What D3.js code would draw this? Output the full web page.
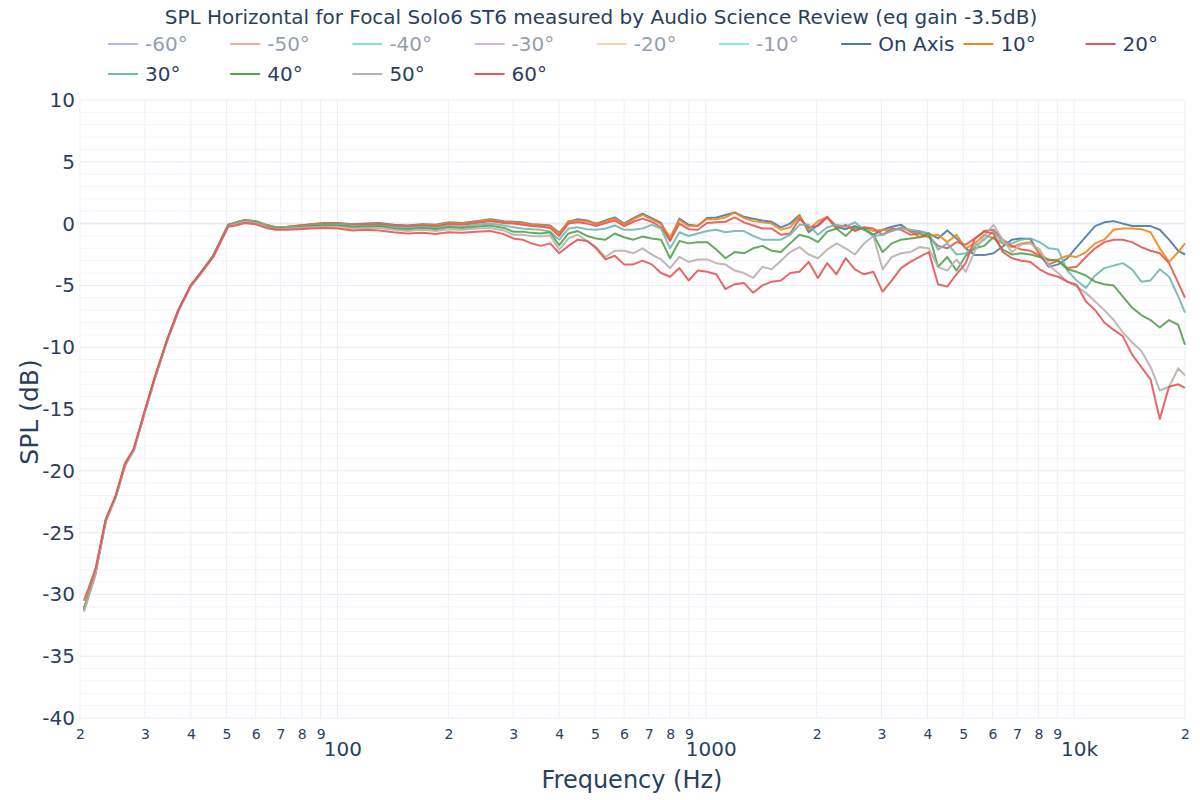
<!DOCTYPE html>
<html><head><meta charset="utf-8">
<script src="https://cdn.jsdelivr.net/npm/d3@7"></script>
<style>
body{margin:0;background:#fff;}
svg{display:block;font-family:"DejaVu Sans",Verdana,sans-serif;}
</style>
</head><body>
<svg id="chart" width="1200" height="800"></svg>
<script>
// ---------- DATA ----------
const chartTitle = "SPL Horizontal for Focal Solo6 ST6 measured by Audio Science Review (eq gain -3.5dB)";
const xTitle = "Frequency (Hz)";
const yTitle = "SPL (dB)";

const freqs = [20.5, 22, 23.5, 25, 26.5, 28, 30, 32, 34.5, 37, 40, 42.5, 46, 50.5, 53, 56, 60, 64, 68, 73, 79, 85, 92, 100, 110, 120, 130, 142, 155, 170, 185, 200, 218, 238, 260, 283,
 300, 318, 336, 356, 378, 400, 424, 449, 476, 504, 534, 566, 600, 636, 673, 713, 756, 800, 848, 898, 951, 1008, 1068, 1131, 1198, 1270, 1345, 1425, 1510, 1600, 1695, 1796, 1903, 2016, 2136, 2263, 2397, 2540, 2691, 2851, 3020, 3200, 3390, 3592, 3805, 4032, 4271, 4525, 4794, 5079, 5381, 5701, 6040, 6400, 6780, 7183, 7610, 8063, 8542, 9050, 9588, 10159, 10763, 11403, 12081, 12799, 13560, 14366, 15220, 16125, 17084, 18100, 19176, 20000];

const splOnAxis = [-31.2, -28.3, -24.0, -22.1, -19.5, -18.3, -15.2, -12.4, -9.4, -7.0, -5.0, -4.0, -2.6, -0.1, 0.1, 0.3, 0.2, -0.1, -0.3, -0.25, -0.15, -0.05, 0.05, 0.05, -0.05, 0.0, 0.05, -0.1, -0.15, -0.05, -0.1, 0.1, 0.05, 0.2, 0.35, 0.2,
 0.15, 0.1, -0.05, -0.1, -0.15, -0.75, 0.15, 0.35, 0.25, 0.0,
 0.25, 0.5, 0.0, 0.45, 0.8, 0.45, 0.05, -1.3, 0.4, -0.1,
 -0.2, 0.45, 0.5, 0.7, 0.9, 0.55, 0.4, 0.25, 0.15, -0.3,
 0.0, 0.7, -0.7, -0.1, 0.55, -0.25, -0.45, -0.2, -0.5, -0.9,
 -0.5, -0.25, -0.1, -0.65, -0.65, -0.8, -1.2, -0.55, -1.2, -2.0,
 -2.55, -2.55, -2.4, -1.85, -1.3, -1.2, -1.25, -2.5, -3.5, -3.3,
 -2.8, -1.9, -1.05, -0.2, 0.1, 0.2, 0.0, -0.2, -0.2, -0.2,
 -0.5, -1.3, -2.2, -2.5];

const spl10 = [-31.2, -28.4, -24.0, -22.1, -19.6, -18.3, -15.2, -12.4, -9.4, -7.0, -5.0, -4.0, -2.6, -0.1, 0.1, 0.3, 0.2, -0.1, -0.3, -0.25, -0.15, -0.05, 0.0, 0.0, -0.1, -0.05, 0.0, -0.15, -0.2, -0.1, -0.15, 0.05, 0.0, 0.15, 0.3, 0.15,
 0.1, 0.05, -0.1, -0.15, -0.2, -0.8, 0.2, 0.25, 0.2, -0.05,
 0.2, 0.4, -0.05, 0.35, 0.7, 0.35, -0.05, -1.1, 0.3, -0.2,
 -0.15, 0.35, 0.35, 0.5, 0.9, 0.45, 0.2, 0.1, 0.0, -0.5,
 -0.3, 0.6, -0.5, 0.2, 0.55, -0.3, -0.2, -0.5, -0.3, -0.6,
 -0.5, -0.6, -0.3, -0.6, -1.1, -1.0, -0.9, -1.5, -0.9, -2.0,
 -1.6, -0.9, -1.2, -1.6, -1.9, -1.6, -1.5, -2.4, -3.0, -2.9,
 -2.6, -2.7, -2.3, -1.6, -1.3, -0.5, -0.4, -0.4, -0.45, -0.7,
 -2.0, -3.1, -2.3, -1.6];

const spl20 = [-31.1, -28.3, -24.0, -22.1, -19.5, -18.3, -15.2, -12.4, -9.4, -7.0, -5.0, -4.0, -2.6, -0.1, 0.05, 0.25, 0.15, -0.15, -0.35, -0.3, -0.2, -0.1, -0.05, -0.05, -0.15, -0.1, -0.05, -0.2, -0.25, -0.15, -0.25, -0.05, -0.1, 0.05, 0.2, 0.05,
 0.0, -0.1, -0.2, -0.25, -0.35, -1.0, 0.0, 0.1, 0.0, -0.2,
 0.05, 0.25, -0.2, 0.15, 0.4, 0.15, -0.3, -1.4, 0.0, -0.45,
 -0.5, 0.05, 0.1, 0.15, 0.5, 0.1, -0.15, -0.4, -0.4, -0.9,
 -0.8, 0.4, -0.3, -0.2, 0.5, -0.4, -0.1, -0.6, -0.3, -0.4,
 -0.9, -0.4, -0.5, -0.9, -0.8, -1.1, -1.8, -2.0, -1.5, -1.7,
 -1.2, -0.6, -0.5, -1.3, -1.8, -2.1, -2.2, -2.6, -3.3, -3.0,
 -3.6, -3.5, -2.7, -2.0, -1.5, -1.3, -1.3, -1.5, -1.9, -2.2,
 -2.4, -3.2, -4.8, -6.0];

const spl30 = [-31.2, -28.3, -24.0, -22.1, -19.5, -18.3, -15.2, -12.4, -9.4, -7.0, -5.0, -4.0, -2.6, -0.15, 0.05, 0.25, 0.15, -0.15, -0.35, -0.3, -0.25, -0.15, -0.1, -0.1, -0.2, -0.2, -0.15, -0.3, -0.35, -0.25, -0.35, -0.2, -0.25, -0.1, 0.0, -0.15,
 -0.3, -0.4, -0.45, -0.5, -0.65, -1.3, -0.4, -0.3, -0.45, -0.5,
 -0.4, -0.15, -0.5, -0.5, -0.4, -0.1, -0.4, -2.0, -0.7, -1.0,
 -0.8, -0.6, -0.5, -0.7, -0.6, -0.6, -1.0, -1.3, -1.3, -1.3,
 -0.9, -0.1, -0.1, -0.9, -0.3, -0.1, -0.25, 0.1, -0.5, -1.0,
 -0.9, -0.6, -0.35, -0.5, -0.6, -0.8, -2.1, -1.6, -2.5, -2.4,
 -1.8, -1.3, -0.6, -1.6, -1.6, -1.3, -1.2, -1.5, -2.0, -2.1,
 -3.8, -4.6, -5.2, -4.2, -3.6, -3.4, -3.2, -3.7, -4.7, -4.6,
 -3.7, -4.3, -5.9, -7.2];

const spl40 = [-31.3, -28.4, -24.0, -22.1, -19.5, -18.3, -15.2, -12.4, -9.4, -7.0, -5.0, -4.0, -2.6, -0.15, 0.0, 0.2, 0.1, -0.2, -0.4, -0.35, -0.3, -0.2, -0.15, -0.15, -0.3, -0.25, -0.2, -0.4, -0.45, -0.35, -0.45, -0.3, -0.35, -0.25, -0.15, -0.35,
 -0.65, -0.65, -0.75, -0.8, -0.7, -1.75, -0.8, -0.6, -1.0, -1.2,
 -1.3, -0.8, -1.1, -1.3, -1.05, -1.2, -1.3, -2.8, -1.4, -1.6,
 -1.5, -1.5, -2.1, -2.8, -2.3, -2.4, -2.0, -1.8, -2.2, -2.3,
 -1.6, -0.9, -1.1, -1.5, -0.65, -0.4, -1.0, -0.3, -0.4, -0.9,
 -2.3, -1.6, -1.3, -1.2, -1.1, -0.8, -3.5, -2.7, -3.8, -2.6,
 -2.0, -1.8, -1.1, -2.1, -2.5, -2.4, -2.5, -2.7, -2.9, -3.0,
 -3.7, -3.9, -4.2, -4.7, -4.9, -5.0, -5.9, -6.8, -7.4, -7.8,
 -8.4, -7.8, -8.2, -9.8];

const spl50 = [-31.4, -28.5, -24.1, -22.2, -19.6, -18.4, -15.3, -12.5, -9.5, -7.1, -5.1, -4.1, -2.7, -0.2, -0.05, 0.15, 0.05, -0.25, -0.45, -0.4, -0.35, -0.3, -0.25, -0.25, -0.4, -0.35, -0.35, -0.5, -0.6, -0.5, -0.6, -0.45, -0.5, -0.4, -0.35, -0.55,
 -0.9, -0.9, -1.0, -1.05, -0.95, -2.1, -1.2, -0.9, -1.4, -1.9,
 -2.7, -2.2, -2.2, -2.4, -2.0, -2.5, -2.9, -3.6, -2.7, -3.1,
 -2.9, -2.9, -3.2, -3.3, -3.8, -4.0, -4.4, -3.5, -3.7, -3.0,
 -2.3, -1.9, -2.5, -2.8, -2.1, -1.6, -2.0, -2.5, -1.6, -1.0,
 -3.7, -2.7, -2.4, -2.3, -1.9, -2.0, -3.5, -3.8, -2.9, -3.9,
 -2.2, -1.0, -0.1, -1.3, -2.3, -1.7, -1.6, -2.1, -3.4, -4.0,
 -4.7, -5.1, -5.6, -6.3, -7.0, -7.8, -8.8, -9.6, -10.3, -11.6,
 -13.5, -13.2, -11.7, -12.3];

const spl60 = [-30.5, -28.0, -23.9, -22.0, -19.4, -18.2, -15.1, -12.3, -9.4, -7.0, -5.0, -4.0, -2.7, -0.25, -0.15, 0.05, -0.05, -0.35, -0.5, -0.5, -0.45, -0.4, -0.35, -0.4, -0.55, -0.5, -0.55, -0.7, -0.8, -0.75, -0.85, -0.7, -0.75, -0.65, -0.6, -0.85,
 -1.2, -1.3, -1.6, -1.8, -1.6, -2.4, -1.8, -1.3, -1.4, -2.0,
 -2.9, -2.6, -3.3, -3.3, -3.0, -3.3, -4.0, -4.3, -3.6, -4.6,
 -3.8, -3.9, -4.1, -5.3, -4.9, -4.8, -5.6, -5.0, -4.7, -4.6,
 -4.0, -3.9, -3.1, -4.4, -3.2, -4.1, -2.8, -3.7, -4.1, -3.9,
 -5.5, -4.6, -3.6, -3.1, -2.7, -2.3, -4.9, -5.1, -4.1, -3.2,
 -1.2, -0.65, -0.8, -2.3, -2.8, -3.0, -3.1, -3.7, -4.1, -4.3,
 -4.7, -4.95, -6.3, -7.0, -8.0, -8.6, -9.1, -10.6, -11.6, -12.6,
 -15.8, -13.2, -13.0, -13.3];

const legendNames = ["-60°", "-50°", "-40°", "-30°", "-20°", "-10°", "On Axis", "10°", "20°", "30°", "40°", "50°", "60°"];
const legendColors = ["#636efa", "#EF553B", "#00cc96", "#ab63fa", "#FFA15A", "#19d3f3", "#4C78A8", "#F58518", "#E45756", "#72B7B2", "#54A24B", "#BAB0AC", "#E45756"];
const legendHidden = [true, true, true, true, true, true, false, false, false, false, false, false, false];
const visibleSeries = [splOnAxis, spl10, spl20, spl30, spl40, spl50, spl60];

const xDigitTicks = [20, 30, 40, 50, 60, 70, 80, 90, 200, 300, 400, 500, 600, 700, 800, 900, 2000, 3000, 4000, 5000, 6000, 7000, 8000, 9000, 20000];
const xDigitLabels = ["2", "3", "4", "5", "6", "7", "8", "9", "2", "3", "4", "5", "6", "7", "8", "9", "2", "3", "4", "5", "6", "7", "8", "9", "2"];
const xMajorTicks = [100, 1000, 10000];
const xMajorLabels = ["100", "1000", "10k"];
const yTicks = [10, 5, 0, -5, -10, -15, -20, -25, -30, -35, -40];
const yTickLabels = ["10", "5", "0", "-5", "-10", "-15", "-20", "-25", "-30", "-35", "-40"];
const yMinorTicks = d3.range(-40, 11, 1);

// ---------- CHART ----------
const svg = d3.select("#chart");
const textColor = "#2a3f5f";
const x = d3.scaleLog().domain([20, 20000]).range([80, 1185]);
const y = d3.scaleLinear().domain([-40, 10]).range([718, 100]);

// grid
const grid = svg.append("g");
grid.selectAll("line.ym").data(yMinorTicks.filter(v => v % 5 !== 0)).join("line")
  .attr("x1", 80).attr("x2", 1185).attr("y1", d => y(d)).attr("y2", d => y(d))
  .attr("stroke", "#f1f4f9").attr("stroke-width", 1);
grid.selectAll("line.xg").data(xDigitTicks.concat(xMajorTicks)).join("line")
  .attr("x1", d => x(d)).attr("x2", d => x(d)).attr("y1", 100).attr("y2", 718)
  .attr("stroke", "#ebf0f8").attr("stroke-width", 1);
grid.selectAll("line.yM").data(yTicks).join("line")
  .attr("x1", 80).attr("x2", 1185).attr("y1", d => y(d)).attr("y2", d => y(d))
  .attr("stroke", "#e6ecf4").attr("stroke-width", d => d === 0 ? 2 : 1);

// axes
const yAxis = svg.append("g").attr("transform", "translate(80,0)")
  .call(d3.axisLeft(y).tickValues(yTicks).tickFormat((d, i) => yTickLabels[i]).tickSize(0).tickPadding(5));
yAxis.select(".domain").remove();
yAxis.selectAll("text").attr("font-size", 20).attr("fill", textColor).attr("font-family", "DejaVu Sans");

const xAxisD = svg.append("g").attr("transform", "translate(0,718)")
  .call(d3.axisBottom(x).tickValues(xDigitTicks).tickFormat((d, i) => xDigitLabels[i]).tickSize(0));
xAxisD.select(".domain").remove();
xAxisD.selectAll("text").attr("y", 21).attr("dy", 0).attr("font-size", 14).attr("fill", textColor).attr("font-family", "DejaVu Sans");

const xAxisM = svg.append("g").attr("transform", "translate(0,718)")
  .call(d3.axisBottom(x).tickValues(xMajorTicks).tickFormat((d, i) => xMajorLabels[i]).tickSize(0));
xAxisM.select(".domain").remove();
xAxisM.selectAll("text").attr("y", 38).attr("dy", 0).attr("dx", 5).attr("font-size", 20).attr("fill", textColor).attr("font-family", "DejaVu Sans");

// lines
const line = d3.line().x((d, i) => x(freqs[i])).y(d => y(d));
const visColors = legendColors.filter((c, i) => !legendHidden[i]);
svg.append("g").selectAll("path").data(visibleSeries).join("path")
  .attr("d", d => line(d)).attr("fill", "none")
  .attr("stroke", (d, i) => visColors[i]).attr("stroke-width", 2)
  .attr("stroke-opacity", 0.9)
  .attr("stroke-linejoin", "round");

// titles
svg.append("text").attr("x", 601).attr("y", 24).attr("text-anchor", "middle")
  .attr("font-size", 20).attr("fill", textColor).text(chartTitle);
svg.append("text").attr("x", 632).attr("y", 788).attr("text-anchor", "middle")
  .attr("font-size", 24).attr("fill", textColor).text(xTitle);
svg.append("text").attr("transform", "translate(38,412) rotate(-90)").attr("text-anchor", "middle")
  .attr("font-size", 25).attr("fill", textColor).text(yTitle);

// legend
const leg = svg.append("g");
legendNames.forEach((name, i) => {
  const row = i < 9 ? 0 : 1;
  const col = i < 9 ? i : i - 9;
  const x0 = 108 + col * 122.2;
  const yc = row === 0 ? 44 : 74;
  const g = leg.append("g").attr("opacity", legendHidden[i] ? 0.5 : 1);
  g.append("line").attr("x1", x0).attr("x2", x0 + 30).attr("y1", yc).attr("y2", yc)
    .attr("stroke", legendColors[i]).attr("stroke-width", 2);
  g.append("text").attr("x", x0 + 37).attr("y", yc).attr("dy", "0.36em")
    .attr("font-size", 20).attr("fill", textColor).text(name);
});
</script>
</body></html>
